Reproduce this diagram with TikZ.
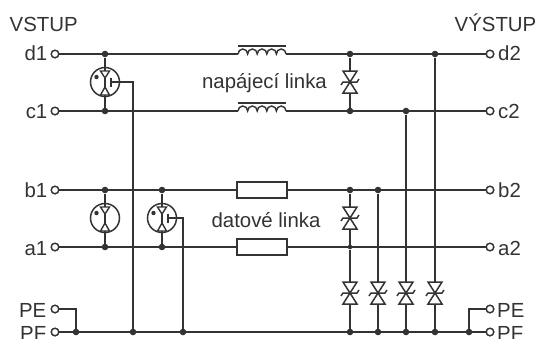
\documentclass[tikz,border=0pt]{standalone}
\usepackage{fontspec}
\setmainfont{Liberation Sans}
\definecolor{ink}{HTML}{333333}
\tikzset{
  x=1pt,y=1pt,
  wire/.style={draw=ink,line width=1.6pt},
  term/.style={circle,draw=ink,line width=1.3pt,fill=white,minimum size=7.5pt,inner sep=0pt},
  dot/.style={circle,fill=ink,minimum size=6.6pt,inner sep=0pt},
  smalldot/.style={circle,fill=ink,minimum size=4.6pt,inner sep=0pt},
  lab/.style={text=ink,font=\fontsize{20.4}{22}\selectfont,inner sep=0pt},
  res/.style={rectangle,draw=ink,line width=1.6pt,fill=white,minimum width=50pt,minimum height=16pt,inner sep=0pt,outer sep=0pt},
  coilbox/.style={rectangle,minimum width=48pt,minimum height=2pt,inner sep=0pt},
  arr/.style={circle,draw=ink,line width=1.5pt,minimum size=29pt,inner sep=0pt},
  tvs/.pic={
    \draw[ink,line width=1.5pt,fill=white,line join=miter] (-7,11)--(7,11)--(0,0)--cycle;
    \draw[ink,line width=1.5pt,fill=white,line join=miter] (-7,-11)--(7,-11)--(0,0)--cycle;
    \draw[ink,line width=1.5pt] (-9,-3)--(-7,0)--(7,0)--(9,3);
  },
  coil/.pic={
    \draw[ink,line width=1.4pt] (-24,0)
      arc[start angle=180,end angle=0,x radius=4.8,y radius=5]
      arc[start angle=180,end angle=0,x radius=4.8,y radius=5]
      arc[start angle=180,end angle=0,x radius=4.8,y radius=5]
      arc[start angle=180,end angle=0,x radius=4.8,y radius=5]
      arc[start angle=180,end angle=0,x radius=4.8,y radius=5];
    \draw[ink,line width=1.6pt] (-24,8)--(24,8);
  },
  gasbody/.pic={
    \draw[ink,line width=1.4pt,fill=white,line join=miter] (-4.5,11)--(4.5,11)--(0,4)--cycle;
    \draw[ink,line width=1.4pt,fill=white,line join=miter] (-4.5,-13)--(4.5,-13)--(0,-5)--cycle;
    \fill[ink] (-8.5,5) circle (2.2);
  }
}
\begin{document}
\begin{tikzpicture}
\useasboundingbox (0,0) rectangle (537,-338);
% terminals
\node[term] (d1) at (55,-54) {};
\node[term] (c1) at (55,-111) {};
\node[term] (b1) at (55,-190) {};
\node[term] (a1) at (55,-247) {};
\node[term] (pe1) at (55,-309) {};
\node[term] (pf1) at (55,-332) {};
\node[term] (d2) at (490,-54) {};
\node[term] (c2) at (490,-111) {};
\node[term] (b2) at (490,-190) {};
\node[term] (a2) at (490,-247) {};
\node[term] (pe2) at (490,-309) {};
\node[term] (pf2) at (490,-332) {};
% labels
\node[lab,anchor=base west] (tin) at (9.5,-31.5) {VSTUP};
\node[lab,anchor=base east] (tout) at (536.5,-31.5) {VÝSTUP};
\node[lab,anchor=base east] (ld1) at (47.5,-60.5) {d1};
\node[lab,anchor=base east] (lc1) at (47.5,-118) {c1};
\node[lab,anchor=base east] (lb1) at (47.5,-197.5) {b1};
\node[lab,anchor=base east] (la1) at (47.5,-255.5) {a1};
\node[lab,anchor=base east] (lpe1) at (46.5,-317.5) {PE};
\node[lab,anchor=base east] (lpf1) at (46.5,-340.5) {PF};
\node[lab,anchor=base west] (ld2) at (498,-60.5) {d2};
\node[lab,anchor=base west] (lc2) at (498,-118) {c2};
\node[lab,anchor=base west] (lb2) at (498,-197.5) {b2};
\node[lab,anchor=base west] (la2) at (498,-255.5) {a2};
\node[lab,anchor=base west] (lpe2) at (497,-317.5) {PE};
\node[lab,anchor=base west] (lpf2) at (497,-340.5) {PF};
\node[lab,anchor=base] (tp) at (264.5,-88) {napájecí linka};
\node[lab,anchor=base] (td) at (266,-227) {datové linka};
% series parts
\node[coilbox] (L1) at (262,-54) {};
\node[coilbox] (L2) at (262,-111) {};
\node[res] (R1) at (262,-190) {};
\node[res] (R2) at (262,-247) {};
% junctions
\node[dot] (jd1) at (105,-54) {};
\node[dot] (jc1) at (105,-111) {};
\node[dot] (jb1) at (105,-190) {};
\node[dot] (ja1) at (105,-247) {};
\node[dot] (jb2) at (162,-190) {};
\node[dot] (ja2) at (162,-247) {};
\node[dot] (jdv) at (350,-54) {};
\node[dot] (jcv) at (350,-111) {};
\node[dot] (jbv) at (350,-190) {};
\node[smalldot] (jav) at (350,-247) {};
\node[dot] (jb3) at (378,-190) {};
\node[dot] (jc3) at (406,-111) {};
\node[dot] (jd3) at (435,-54) {};
\node[dot] (g0) at (76,-332) {};
\node[dot] (g1) at (133,-332) {};
\node[dot] (g2) at (183,-332) {};
\node[dot] (g3) at (350,-332) {};
\node[dot] (g4) at (378,-332) {};
\node[dot] (g5) at (406,-332) {};
\node[dot] (g6) at (435,-332) {};
\node[dot] (g7) at (469,-332) {};
% part centres
\node[arr] (A1) at (105,-82) {};
\node[arr] (A2) at (105,-218) {};
\node[arr] (A3) at (162,-218) {};
\coordinate (T0) at (350,-82);
\coordinate (T1) at (350,-218);
\coordinate (T2) at (350,-293);
\coordinate (T3) at (378,-293);
\coordinate (T4) at (406,-293);
\coordinate (T5) at (435,-293);
\coordinate (gate1) at (112,-82);
\coordinate (gate3) at (169,-218);
\coordinate (k1) at (133,-82);
\coordinate (k3) at (183,-218);
\coordinate (kpe1) at (76,-309);
\coordinate (kpe2) at (469,-309);
% wires
\draw[wire] (d1)--(L1.west) (L1.east)--(d2);
\draw[wire] (c1)--(L2.west) (L2.east)--(c2);
\draw[wire] (b1)--(R1) (R1)--(b2);
\draw[wire] (a1)--(R2) (R2)--(a2);
\draw[wire] (pf1)--(pf2);
\draw[wire] (pe1)--(kpe1)--(g0);
\draw[wire] (pe2)--(kpe2)--(g7);
\draw[wire] (jd1)--(A1.center)--(jc1);
\draw[wire] (jb1)--(A2.center)--(ja1);
\draw[wire] (jb2)--(A3.center)--(ja2);
\draw[wire] (gate1)--(k1)--(g1);
\draw[wire] (gate3)--(k3)--(g2);
\draw[wire] (jdv)--(T0)--(jcv);
\draw[wire] (jbv)--(T1)--(jav);
\draw[wire] (jav)--(T2)--(g3);
\draw[wire] (jb3)--(T3)--(g4);
\draw[wire] (jc3)--(T4)--(g5);
\draw[wire] (jd3)--(T5)--(g6);
% redraw parts on top of wires
\node[res] at (R1) {};
\node[res] at (R2) {};
\node[term] at (d1) {};\node[term] at (c1) {};\node[term] at (b1) {};\node[term] at (a1) {};
\node[term] at (pe1) {};\node[term] at (pf1) {};\node[term] at (d2) {};\node[term] at (c2) {};
\node[term] at (b2) {};\node[term] at (a2) {};\node[term] at (pe2) {};\node[term] at (pf2) {};
\pic at (L1) {coil};
\pic at (L2) {coil};
\foreach \t in {T0,T1,T2,T3,T4,T5} {\pic at (\t) {tvs};}
\foreach \a in {A1,A2,A3} {\pic at (\a) {gasbody};}
\draw[ink,line width=1.6pt] (111,-77.5)--(111,-86.5);
\draw[ink,line width=1.6pt] (168,-213.5)--(168,-222.5);
\end{tikzpicture}
\end{document}
